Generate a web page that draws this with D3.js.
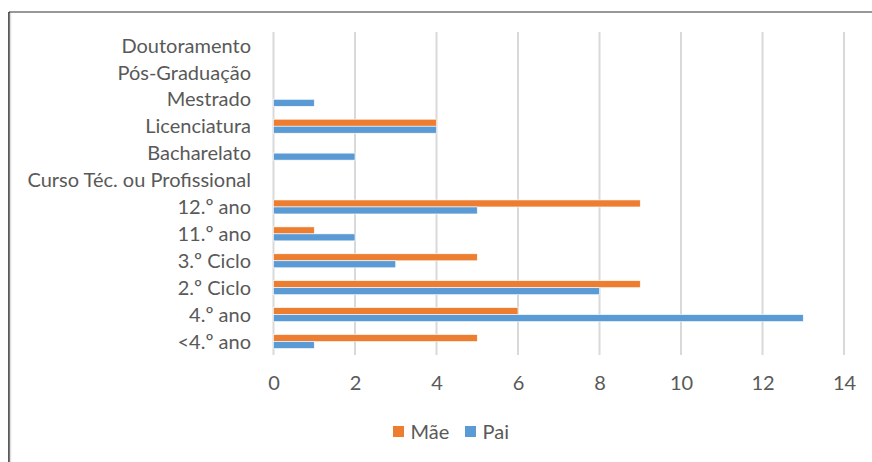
<!DOCTYPE html>
<html>
<head>
<meta charset="utf-8">
<script src="https://cdn.jsdelivr.net/npm/d3@7"></script>
<style>
  html, body { margin: 0; padding: 0; background: #fff; }
  svg { display: block; }
  text { font-family: Lato, "Open Sans", sans-serif; fill: #595959; }
</style>
</head>
<body>
<svg id="chart" width="872" height="462"></svg>
<script>
const categories = ["<4.º ano", "4.º ano", "2.º Ciclo", "3.º Ciclo", "11.º ano", "12.º ano",
  "Curso Téc. ou Profissional", "Bacharelato", "Licenciatura", "Mestrado", "Pós-Graduação", "Doutoramento"];
const seriesNames = ["Mãe", "Pai"];
const maeValues = [5, 6, 9, 5, 1, 9, 0, 0, 4, 0, 0, 0];
const paiValues = [1, 13, 8, 3, 2, 5, 0, 2, 4, 1, 0, 0];
const tickValues = [0, 2, 4, 6, 8, 10, 12, 14];
const colors = ["#ED7D31", "#5B9BD5"];

const svg = d3.select("#chart");
const W = 872, H = 462;
const FS = "20px";

// frame border (left + top visible)
svg.append("line").attr("x1", 9).attr("x2", 9).attr("y1", 12).attr("y2", H).attr("stroke", "#222").attr("stroke-width", 1.5);
svg.append("line").attr("x1", 10.5).attr("x2", 10.5).attr("y1", 13).attr("y2", H).attr("stroke", "#ddd").attr("stroke-width", 1.5);
svg.append("line").attr("x1", 9).attr("x2", W).attr("y1", 12).attr("y2", 12).attr("stroke", "#333").attr("stroke-width", 1.2);

const x = d3.scaleLinear().domain([0, 14]).range([273.5, 844]);
const y = d3.scaleBand().domain(categories.slice().reverse()).range([32, 355]).paddingInner(0.48).paddingOuter(0.24);
const ySub = d3.scaleBand().domain(seriesNames).range([0, y.bandwidth()]);

// gridlines
svg.append("g").selectAll("line").data(tickValues).join("line")
  .attr("x1", d => x(d)).attr("x2", d => x(d))
  .attr("y1", 32).attr("y2", 355)
  .attr("stroke", "#d9d9d9").attr("stroke-width", 2);

// bars
const data = categories.map((c, i) => ({ c, vals: [maeValues[i], paiValues[i]] }));
const groups = svg.append("g").selectAll("g").data(data).join("g")
  .attr("transform", d => `translate(0,${y(d.c)})`);
groups.selectAll("rect").data(d => d.vals.map((v, j) => ({ v, s: seriesNames[j], j })))
  .join("rect")
  .filter(d => d.v > 0)
  .attr("x", x(0))
  .attr("y", d => ySub(d.s))
  .attr("width", d => x(d.v) - x(0))
  .attr("height", ySub.bandwidth())
  .attr("fill", d => colors[d.j])
  .attr("stroke", "#fff").attr("stroke-width", 0.6);

// y labels
const yAxis = d3.axisLeft(y).tickSize(0).tickPadding(0);
const gy = svg.append("g").attr("transform", "translate(251,0)").call(yAxis);
gy.select(".domain").remove();
gy.selectAll("text").style("font-size", FS).attr("fill", "#595959").attr("dy", "0.36em");

// x labels
const xAxis = d3.axisBottom(x).tickValues(tickValues).tickSize(0).tickPadding(0);
const gx = svg.append("g").attr("transform", "translate(0,376)").call(xAxis);
gx.select(".domain").remove();
gx.selectAll("text").style("font-size", FS).attr("fill", "#595959");

// legend
const legendX = [393, 465];
const leg = svg.append("g").selectAll("g").data(seriesNames).join("g")
  .attr("transform", (d, i) => `translate(${legendX[i]},426)`);
leg.append("rect").attr("width", 11).attr("height", 11).attr("fill", (d, i) => colors[i]);
leg.append("text").attr("x", 17.5).attr("y", 12.5).style("font-size", FS).text(d => d);
</script>
</body>
</html>
